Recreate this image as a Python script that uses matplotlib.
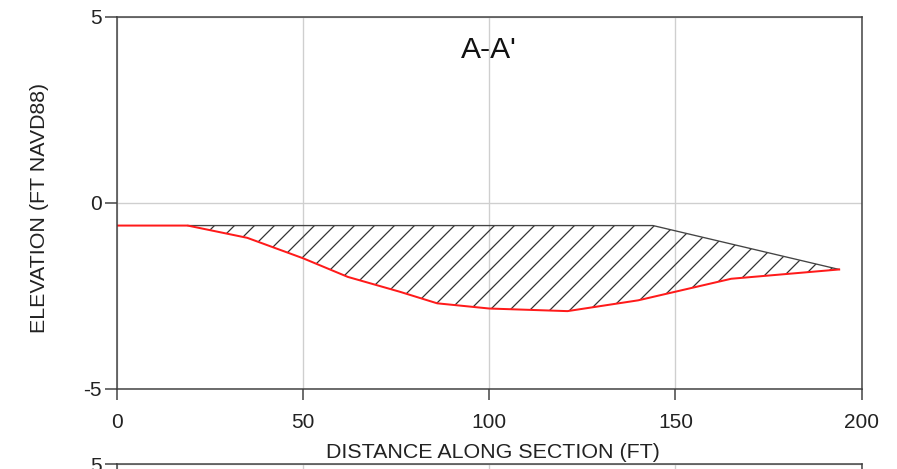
import matplotlib
matplotlib.use("Agg")
import matplotlib.pyplot as plt

plt.rcParams['font.family'] = ['Liberation Sans', 'DejaVu Sans']
plt.rcParams['hatch.linewidth'] = 0.75
plt.rcParams['hatch.color'] = '#333333'
plt.rcParams['axes.unicode_minus'] = False

# Ground profile (red line)
profile_x = [0, 19, 35, 50, 62, 76, 86, 100, 121, 140, 165, 194]
profile_y = [-0.62, -0.62, -0.95, -1.5, -2.0, -2.4, -2.71, -2.85, -2.92, -2.63, -2.05, -1.80]

# Upper boundary of the hatched area
design_x = [19, 144, 194]
design_y = [-0.62, -0.62, -1.80]

x_ticks = [0, 50, 100, 150, 200]
y_ticks = [-5, 0, 5]
title = "A-A'"
xlabel = "DISTANCE ALONG SECTION (FT)"
ylabel = "ELEVATION (FT NAVD88)"

DPI = 120
fig = plt.figure(figsize=(897 / DPI, 469 / DPI), dpi=DPI)

left, right = 117 / 897, 861.5 / 897
top, bottom = 1 - 16.5 / 469, 1 - 388.5 / 469
h = top - bottom
ax = fig.add_axes([left, bottom, right - left, h])

spine_c = '#404040'


def style(a):
    a.set_xlim(0, 200)
    a.set_ylim(-5, 5)
    a.set_xticks(x_ticks)
    a.set_yticks(y_ticks)
    a.grid(True, color='#cfcfcf', linewidth=0.8)
    a.set_axisbelow(True)
    for s in a.spines.values():
        s.set_color(spine_c)
        s.set_linewidth(0.9)
    a.tick_params(axis='x', direction='out', length=6.5, width=0.9, color=spine_c,
                  pad=8, labelsize=12.5, labelcolor='#222222')
    a.tick_params(axis='y', direction='out', length=7, width=0.9, color=spine_c,
                  pad=2, labelsize=12.5, labelcolor='#222222')


style(ax)

# hatched polygon: design line then profile back
poly_x = list(design_x) + [x for x in reversed(profile_x) if x >= design_x[0]]
poly_y = list(design_y) + [y for x, y in zip(reversed(profile_x), reversed(profile_y)) if x >= design_x[0]]
ax.fill(poly_x, poly_y, facecolor='none', edgecolor='#333333', hatch='//', linewidth=0)
ax.plot(design_x, design_y, color='#444444', linewidth=0.8)
ax.plot(profile_x, profile_y, color='#ff1a1a', linewidth=1.2)

ax.text(100, 4.1, title, ha='center', va='center', fontsize=18, color='#111111')
fig.text(40 / 897, 1 - 208 / 469, ylabel, rotation=90, ha='center', va='center',
         fontsize=12.8, color='#222222')
fig.text(493 / 897, 1 - 453 / 469, xlabel, ha='center', va='center',
         fontsize=12.8, color='#222222')

# second (next) chart peeking in at the bottom
top2 = 1 - 464 / 469
ax2 = fig.add_axes([left, top2 - h, right - left, h])
style(ax2)
ax2.set_yticks([y_ticks[-1]])
ax2.tick_params(axis='x', labelbottom=False)

fig.savefig('out.png', dpi=DPI)
